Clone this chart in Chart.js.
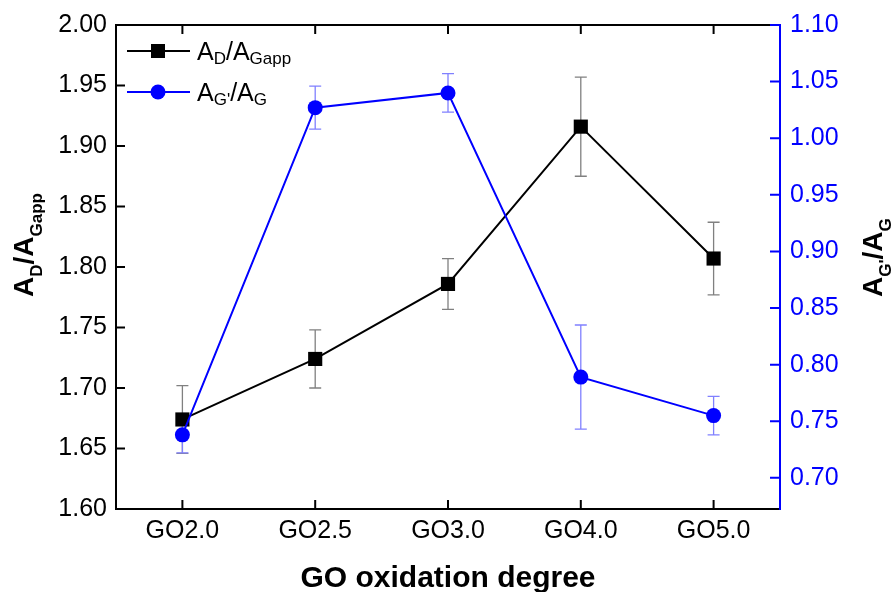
<!DOCTYPE html>
<html>
<head>
<meta charset="utf-8">
<script src="https://cdn.jsdelivr.net/npm/chart.js@4/dist/chart.umd.min.js"></script>
<style>
    body { margin: 0; background: #fff; }
    #wrap { width: 893px; height: 592px; position: relative; }
</style>
</head>
<body>
<div id="wrap"><canvas id="lineChart"></canvas></div>
<script>
// data
var categories = ['GO2.0', 'GO2.5', 'GO3.0', 'GO4.0', 'GO5.0'];
var ratioDG = [1.674, 1.724, 1.786, 1.916, 1.807];      // A_D/A_Gapp (left axis)
var ratioDGErr = [0.028, 0.024, 0.021, 0.041, 0.030];
var ratioGG = [0.738, 1.027, 1.040, 0.789, 0.755];      // A_G'/A_G (right axis)
var ratioGGErr = [0.016, 0.019, 0.017, 0.046, 0.017];
var leftTicks = [1.60, 1.65, 1.70, 1.75, 1.80, 1.85, 1.90, 1.95, 2.00];
var rightTicks = [0.70, 0.75, 0.80, 0.85, 0.90, 0.95, 1.00, 1.05, 1.10];

var FONT = 'Arial, "Liberation Sans", sans-serif';
var BLUE = '#0000ff';

Chart.defaults.font.family = FONT;
Chart.defaults.color = '#000';

// draws text with subscripts: parts = [[text, isSub], ...]
function subText(ctx, parts, x, y, size, subSize, subOff, bold) {
    var w = bold ? 'bold ' : '';
    parts.forEach(function (p) {
        ctx.font = w + (p[1] ? subSize : size) + 'px ' + FONT;
        ctx.fillText(p[0], x, p[1] ? y + subOff : y);
        x += ctx.measureText(p[0]).width;
    });
}

var extras = {
    id: 'extras',
    beforeDatasetsDraw: function (chart) {
        var ctx = chart.ctx;
        var xs = chart.scales.x;
        function bars(vals, errs, scale, color) {
            ctx.save();
            ctx.strokeStyle = color;
            ctx.lineWidth = 1.3;
            vals.forEach(function (v, i) {
                var px = xs.getPixelForValue(i);
                var top = scale.getPixelForValue(v + errs[i]);
                var bot = scale.getPixelForValue(v - errs[i]);
                ctx.beginPath();
                ctx.moveTo(px, top); ctx.lineTo(px, bot);
                ctx.moveTo(px - 6, top); ctx.lineTo(px + 6, top);
                ctx.moveTo(px - 6, bot); ctx.lineTo(px + 6, bot);
                ctx.stroke();
            });
            ctx.restore();
        }
        bars(ratioDG, ratioDGErr, chart.scales.y, '#808080');
        bars(ratioGG, ratioGGErr, chart.scales.y1, '#8080ff');
    },
    afterDraw: function (chart) {
        var ctx = chart.ctx;
        var s = chart.scales;
        ctx.save();
        ctx.lineWidth = 2;
        // inward tick marks
        ctx.strokeStyle = '#000';
        ctx.beginPath();
        s.x.ticks.forEach(function (t, i) {
            var px = s.x.getPixelForTick(i);
            ctx.moveTo(px, s.x.top); ctx.lineTo(px, s.x.top - 9);
            ctx.moveTo(px, s.xTop.bottom); ctx.lineTo(px, s.xTop.bottom + 9);
        });
        s.y.ticks.forEach(function (t, i) {
            var py = s.y.getPixelForTick(i);
            ctx.moveTo(s.y.right, py); ctx.lineTo(s.y.right + 9, py);
        });
        ctx.stroke();
        ctx.strokeStyle = BLUE;
        ctx.beginPath();
        s.y1.ticks.forEach(function (t, i) {
            var py = s.y1.getPixelForTick(i);
            ctx.moveTo(s.y1.left, py); ctx.lineTo(s.y1.left - 10, py);
        });
        ctx.stroke();

        // legend
        ctx.fillStyle = '#000';
        ctx.textBaseline = 'alphabetic';
        ctx.textAlign = 'left';
        ctx.strokeStyle = '#000';
        ctx.beginPath(); ctx.moveTo(127, 51); ctx.lineTo(190, 51); ctx.stroke();
        ctx.fillRect(151, 44, 14, 14);
        subText(ctx, [['A', 0], ['D', 1], ['/A', 0], ['Gapp', 1]], 197, 60, 25, 17, 4, false);
        ctx.strokeStyle = BLUE;
        ctx.fillStyle = BLUE;
        ctx.beginPath(); ctx.moveTo(127, 92); ctx.lineTo(190, 92); ctx.stroke();
        ctx.beginPath(); ctx.arc(158, 92, 7.5, 0, Math.PI * 2); ctx.fill();
        ctx.fillStyle = '#000';
        subText(ctx, [['A', 0], ['G\'', 1], ['/A', 0], ['G', 1]], 197, 101, 25, 17, 4, false);

        // axis titles
        ctx.font = 'bold 30px ' + FONT;
        ctx.textAlign = 'center';
        ctx.fillText('GO oxidation degree', 448, 587);
        ctx.textAlign = 'left';
        ctx.save();
        ctx.translate(33, 297);
        ctx.rotate(-Math.PI / 2);
        subText(ctx, [['A', 0], ['D', 1], ['/A', 0], ['Gapp', 1]], 0, 0, 28, 17, 9, true);
        ctx.restore();
        ctx.save();
        ctx.translate(882, 297);
        ctx.rotate(-Math.PI / 2);
        subText(ctx, [['A', 0], ['G\'', 1], ['/A', 0], ['G', 1]], 0, 0, 28, 17, 9, true);
        ctx.restore();
        ctx.restore();
    }
};

var ctx = document.getElementById('lineChart');
var myChart = new Chart(ctx, {
    type: 'line',
    data: {
        labels: categories,
        datasets: [{
            label: 'AD/AGapp',
            data: ratioDG,
            yAxisID: 'y',
            borderColor: '#000',
            backgroundColor: '#000',
            borderWidth: 2,
            pointStyle: 'rect',
            pointRadius: 10,
            pointBorderWidth: 0,
            order: 1
        }, {
            label: "AG'/AG",
            data: ratioGG,
            yAxisID: 'y1',
            borderColor: BLUE,
            backgroundColor: BLUE,
            borderWidth: 2,
            pointStyle: 'circle',
            pointRadius: 7.5,
            pointBorderWidth: 0,
            order: 0
        }]
    },
    options: {
        responsive: true,
        maintainAspectRatio: false,
        animation: false,
        layout: { padding: 0 },
        plugins: {
            legend: { display: false },
            tooltip: { enabled: false }
        },
        scales: {
            x: {
                position: 'bottom',
                offset: true,
                grid: { display: true, drawOnChartArea: false, drawTicks: false },
                border: { color: '#000', width: 2 },
                ticks: { padding: 7, font: { size: 25 }, color: '#000' },
                afterFit: function (scale) { scale.height = 83; }
            },
            xTop: {
                position: 'top',
                type: 'category',
                labels: categories,
                offset: true,
                grid: { display: true, drawOnChartArea: false, drawTicks: false },
                border: { color: '#000', width: 2 },
                ticks: { display: false },
                afterFit: function (scale) { scale.height = 22; }
            },
            y: {
                position: 'left',
                min: 1.60,
                max: 2.00,
                grid: { display: true, drawOnChartArea: false, drawTicks: false },
                border: { color: '#000', width: 2 },
                ticks: {
                    padding: 9,
                    font: { size: 25 },
                    color: '#000',
                    callback: function (v) { return Number(v).toFixed(2); }
                },
                afterBuildTicks: function (scale) {
                    scale.ticks = leftTicks.map(function (v) { return { value: v }; });
                },
                afterFit: function (scale) { scale.width = 116; }
            },
            y1: {
                position: 'right',
                min: 0.6725,
                max: 1.10,
                grid: { display: true, drawOnChartArea: false, drawTicks: false },
                border: { color: BLUE, width: 2 },
                ticks: {
                    padding: 10,
                    font: { size: 25 },
                    color: BLUE,
                    callback: function (v) { return Number(v).toFixed(2); }
                },
                afterBuildTicks: function (scale) {
                    scale.ticks = rightTicks.map(function (v) { return { value: v }; });
                },
                afterFit: function (scale) { scale.width = 113; }
            }
        }
    },
    plugins: [extras]
});
</script>
</body>
</html>
